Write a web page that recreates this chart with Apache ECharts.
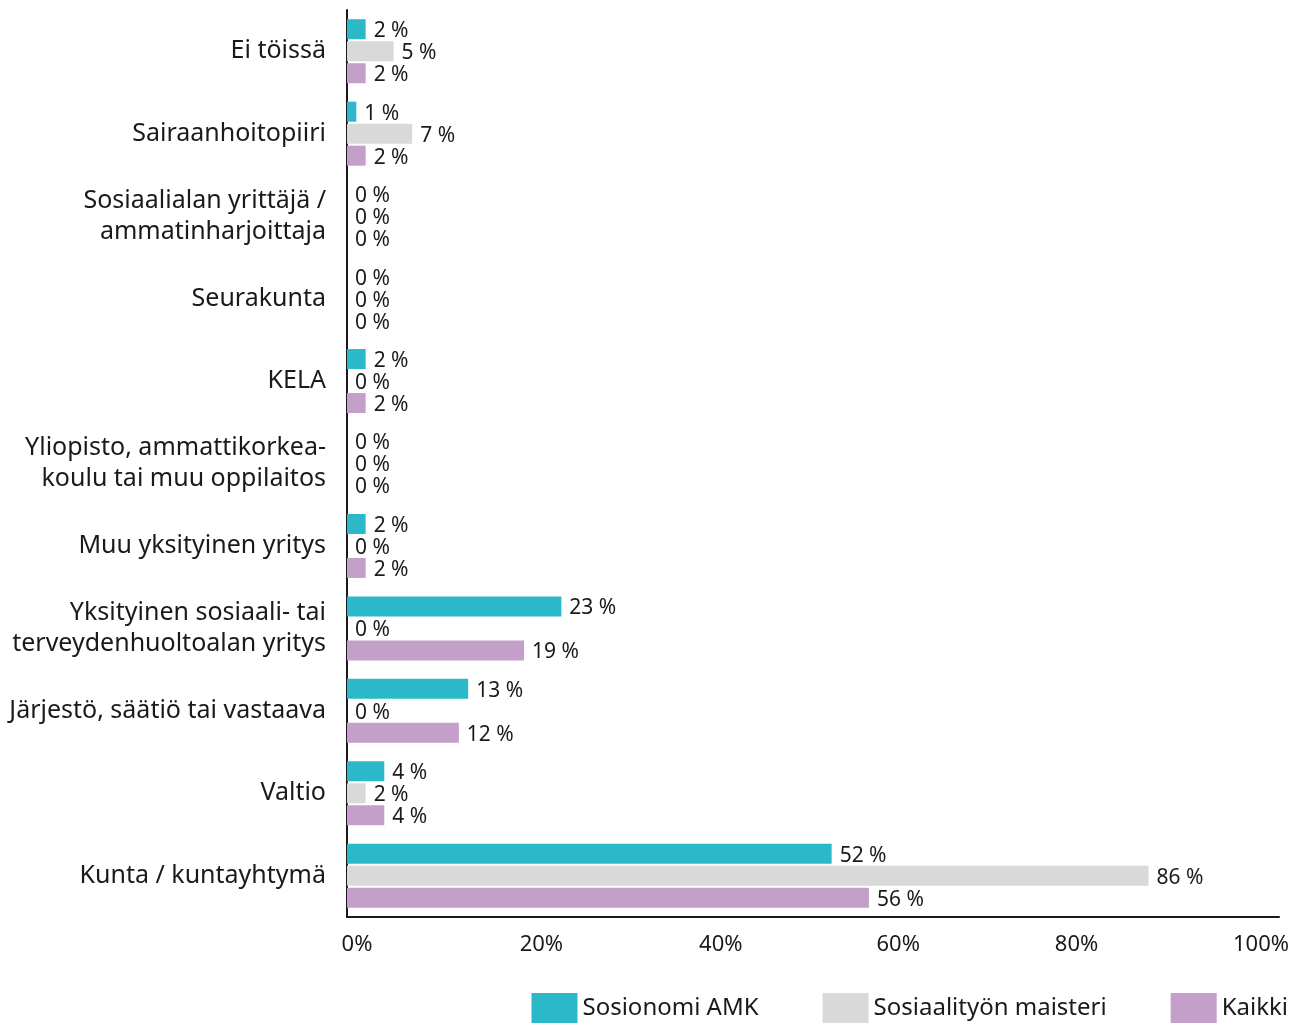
<!DOCTYPE html>
<html>
<head>
<meta charset="utf-8">
<script src="https://cdn.jsdelivr.net/npm/echarts@6/dist/echarts.min.js"></script>
<style>
html,body{margin:0;padding:0;background:#fff;}
#chart{width:1303px;height:1023px;}
</style>
</head>
<body>
<div id="chart"></div>
<script>
const categories = [
  'Ei töissä',
  'Sairaanhoitopiiri',
  'Sosiaalialan yrittäjä /\nammatinharjoittaja',
  'Seurakunta',
  'KELA',
  'Yliopisto, ammattikorkea-\nkoulu tai muu oppilaitos',
  'Muu yksityinen yritys',
  'Yksityinen sosiaali- tai\nterveydenhuoltoalan yritys',
  'Järjestö, säätiö tai vastaava',
  'Valtio',
  'Kunta / kuntayhtymä'
];
const seriesNames = ['Sosionomi AMK', 'Sosiaalityön maisteri', 'Kaikki'];
const sosionomi = [2, 1, 0, 0, 2, 0, 2, 23, 13, 4, 52];
const maisteri  = [5, 7, 0, 0, 0, 0, 0, 0, 0, 2, 86];
const kaikki    = [2, 2, 0, 0, 2, 0, 2, 19, 12, 4, 56];
const xTicks = [0, 20, 40, 60, 80, 100];

const colors = ['#2bb8c8', '#d9d9d9', '#c39fca'];
const FONT = 'Noto Sans';

// horizontal nudges of tick labels (label styling only)
const tickShift = { 0: 10, 20: 8, 40: 1, 60: -8, 80: -16, 100: -18 };
const rich = {};
xTicks.forEach(v => {
  const d = tickShift[v] || 0;
  rich['t' + v] = {
    fontFamily: FONT, fontSize: 22, color: '#1a1a1a',
    padding: d >= 0 ? [0, 0, 0, 2 * d] : [0, -2 * d, 0, 0]
  };
});

function mk(name, data, color) {
  return {
    name: name,
    type: 'bar',
    data: data,
    barWidth: 20,
    barGap: '10%',
    barCategoryGap: '21%',
    itemStyle: { color: color },
    label: {
      show: true,
      position: 'right',
      distance: 8,
      offset: [0, 2],
      formatter: p => p.value + ' %',
      color: '#1a1a1a',
      fontFamily: FONT,
      fontSize: 21
    }
  };
}

const chart = echarts.init(document.getElementById('chart'));
chart.setOption({
  animation: false,
  textStyle: { fontFamily: FONT },
  grid: { left: 347, right: 24, top: 10, bottom: 106, containLabel: false },
  xAxis: {
    type: 'value',
    min: xTicks[0],
    max: xTicks[xTicks.length - 1],
    interval: 20,
    splitLine: { show: false },
    axisLine: { show: true, lineStyle: { color: '#1a1a1a', width: 2 } },
    axisTick: { show: false },
    axisLabel: {
      margin: 17,
      color: '#1a1a1a',
      fontFamily: FONT,
      fontSize: 22,
      formatter: v => '{t' + v + '|' + v + '%}',
      rich: rich
    }
  },
  yAxis: {
    type: 'category',
    inverse: true,
    data: categories,
    axisLine: { show: true, onZero: false, lineStyle: { color: '#1a1a1a', width: 2 } },
    axisTick: { show: false },
    axisLabel: {
      margin: 21,
      color: '#1a1a1a',
      fontFamily: FONT,
      fontSize: 25,
      lineHeight: 31,
      align: 'right'
    }
  },
  legend: {
    right: 10,
    bottom: -5,
    itemWidth: 46,
    itemHeight: 30,
    itemGap: 64,
    icon: 'rect',
    textStyle: { fontFamily: FONT, fontSize: 24, color: '#1a1a1a' },
    data: seriesNames
  },
  series: [
    mk(seriesNames[0], sosionomi, colors[0]),
    mk(seriesNames[1], maisteri, colors[1]),
    mk(seriesNames[2], kaikki, colors[2])
  ]
});
</script>
</body>
</html>
